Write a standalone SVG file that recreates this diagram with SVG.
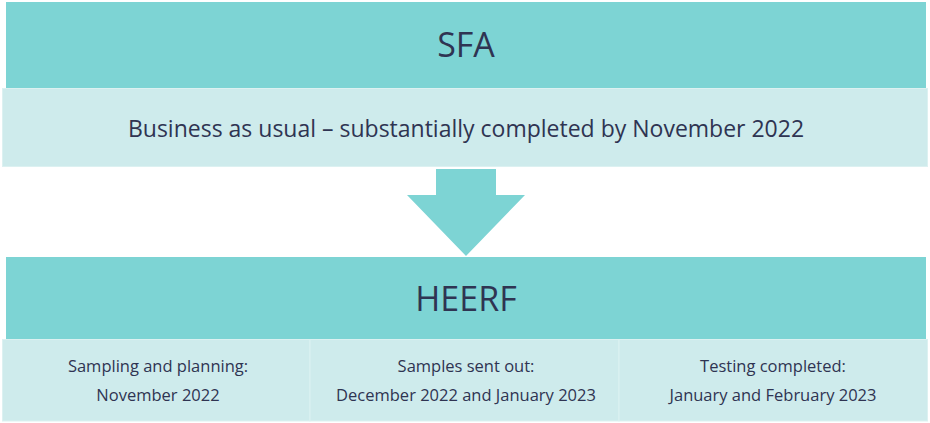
<svg xmlns="http://www.w3.org/2000/svg" width="930" height="423" viewBox="0 0 930 423">
<style>
.bar{fill:#7dd4d4}
.band{fill:#ceebec;stroke:#dcf1f1;stroke-width:1}
.t{font-family:"Open Sans","Liberation Sans",sans-serif;fill:#2f3452;text-anchor:middle}
.big{font-size:34px}
.mid{font-size:23px}
.sm{font-size:16.5px}
</style>
<rect width="930" height="423" fill="#ffffff"/>
<g id="sfa">
<rect class="bar" x="6" y="2" width="920" height="86"/>
<text class="t big" x="466" y="57">SFA</text>
</g>
<g id="sfa-detail">
<rect class="band" x="2.5" y="88.5" width="925" height="78"/>
<text class="t mid" x="466" y="137">Business as usual – substantially completed by November 2022</text>
</g>
<g id="connectors">
<polygon class="bar" points="436,169 496,169 496,195 525,195 466,256 407,195 436,195"/>
</g>
<g id="heerf">
<rect class="bar" x="6" y="257" width="920" height="82"/>
<text class="t big" x="466" y="310.5">HEERF</text>
</g>
<g id="heerf-sampling">
<rect class="band" x="2.5" y="339.5" width="307.5" height="81.5"/>
<text class="t sm" x="158" y="372">Sampling and planning:</text>
<text class="t sm" x="158" y="401">November 2022</text>
</g>
<g id="heerf-samples">
<rect class="band" x="310" y="339.5" width="309" height="81.5"/>
<text class="t sm" x="466" y="372">Samples sent out:</text>
<text class="t sm" x="466" y="401">December 2022 and January 2023</text>
</g>
<g id="heerf-testing">
<rect class="band" x="619" y="339.5" width="308.5" height="81.5"/>
<text class="t sm" x="773" y="372">Testing completed:</text>
<text class="t sm" x="773" y="401">January and February 2023</text>
</g>
</svg>
